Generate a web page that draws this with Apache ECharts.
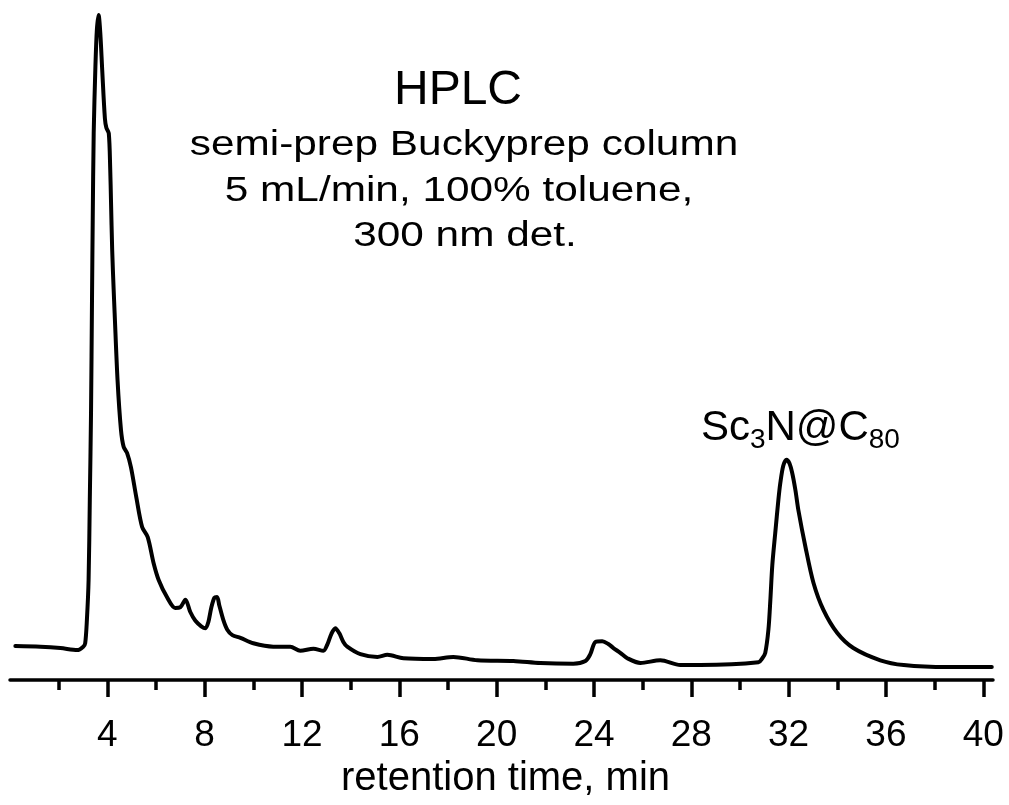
<!DOCTYPE html>
<html>
<head>
<meta charset="utf-8">
<script src="https://cdn.jsdelivr.net/npm/echarts@6/dist/echarts.min.js"></script>
<style>
  html, body { margin: 0; padding: 0; background: #fff; }
  #chart { width: 1009px; height: 805px; }
</style>
</head>
<body>
<div id="chart"></div>
<script>
// Retention time (min) and detector signal (arbitrary units, 0-100)
const retentionTime = [0.22,1.25,2.07,2.77,3.01,3.09,3.16,3.23,3.28,3.33,3.37,3.40,3.44,3.51,3.57,3.64,3.71,3.79,3.90,3.96,4.06,4.12,4.15,4.20,4.26,4.30,4.42,4.56,4.67,4.81,4.97,5.19,5.43,5.66,5.90,6.11,6.45,6.79,7.00,7.21,7.41,7.62,7.86,8.03,8.15,8.27,8.40,8.51,8.60,8.77,8.93,9.14,9.47,10.00,10.82,11.52,11.93,12.47,12.88,13.04,13.21,13.37,13.53,13.70,13.86,14.40,15.10,15.51,16.17,17.40,18.22,19.21,20.69,21.80,23.15,23.65,23.85,24.06,24.34,24.59,24.80,25.08,25.37,25.91,26.73,27.55,28.37,30.76,30.92,31.04,31.17,31.25,31.33,31.45,31.58,31.66,31.78,31.91,32.03,32.15,32.28,32.40,32.69,33.02,33.43,34.00,34.66,35.77,36.73,38.52,40.35];
const signal = [5.0,4.9,4.7,4.4,4.9,5.4,8.8,14.7,26.5,39.3,55.9,67.6,80.4,90.2,95.6,97.8,95.2,89.7,82.6,81.2,80.4,75.0,70.6,63.2,57.4,54.0,44.1,36.8,34.3,33.4,31.3,26.9,22.5,21.0,17.2,14.7,12.2,10.6,10.7,11.8,10.0,8.7,7.9,7.6,8.5,10.6,12.1,12.2,11.0,8.8,7.4,6.6,6.2,5.4,4.9,4.9,4.3,4.6,4.3,5.2,6.8,7.6,6.9,5.6,4.9,3.8,3.4,3.7,3.2,3.1,3.4,2.9,2.8,2.5,2.4,2.8,3.8,5.6,5.7,5.3,4.7,4.0,3.2,2.5,2.9,2.2,2.2,2.6,3.2,4.0,7.4,11.8,16.9,21.6,26.5,29.0,31.5,32.4,31.9,30.4,27.9,25.0,19.6,14.3,10.3,6.9,4.7,2.9,2.2,1.9,1.9];

const majorTicks = [4,8,12,16,20,24,28,32,36,40];
const minorTicks = [2,6,10,14,18,22,26,30,34,38];

const titleText = 'HPLC';
const subtitleLines = ['semi-prep Buckyprep column', '5 mL/min, 100% toluene,', '300 nm det.'];
const peakLabel = { time: 31.91, value: 32.4 };
const xAxisTitle = 'retention time, min';

const FONT = '"Liberation Sans", Arial, Helvetica, sans-serif';
const chart = echarts.init(document.getElementById('chart'), null, { renderer: 'canvas' });

const data = retentionTime.map((t, i) => [t, signal[i]]);

function textEl(text, x, y, size, sx) {
  return {
    type: 'text', x: x, y: y, scaleX: sx, scaleY: 1, silent: true,
    style: {
      text: text, fill: '#000',
      font: size + 'px ' + FONT,
      textAlign: 'center', textVerticalAlign: 'middle',
      align: 'center', verticalAlign: 'middle'
    }
  };
}

const option = {
  animation: false,
  backgroundColor: '#fff',
  grid: { left: 10, right: 16, top: 0, bottom: 125, containLabel: false },
  xAxis: [
    {
      type: 'value', min: 0, max: 40.4, interval: 4,
      position: 'bottom',
      name: xAxisTitle, nameLocation: 'middle', nameGap: 76,
      nameTextStyle: { fontSize: 40, color: '#000', fontFamily: FONT, padding: [0, 0, 0, 8] },
      axisLine: { show: true, onZero: false, lineStyle: { color: '#000', width: 3.5 } },
      axisTick: { show: true, inside: false, length: 17, customValues: majorTicks, lineStyle: { color: '#000', width: 3.5 } },
      minorTick: { show: false },
      splitLine: { show: false },
      axisLabel: { show: true, customValues: majorTicks, margin: 37, fontSize: 37, color: '#000', fontFamily: FONT }
    },
    {
      type: 'value', min: 0, max: 40.4, interval: 2,
      position: 'bottom',
      axisLine: { show: false, onZero: false },
      axisTick: { show: true, inside: false, length: 10, customValues: minorTicks, lineStyle: { color: '#000', width: 3.5 } },
      splitLine: { show: false },
      axisLabel: { show: false }
    }
  ],
  yAxis: { type: 'value', min: 0, max: 100, show: false, splitLine: { show: false } },
  graphic: [
    textEl(titleText, 458, 91, 48, 1.0),
    textEl(subtitleLines[0], 464, 145, 35, 1.21),
    textEl(subtitleLines[1], 459, 191, 35, 1.21),
    textEl(subtitleLines[2], 465, 236, 35, 1.21)
  ],
  series: [{
    type: 'line',
    xAxisIndex: 0,
    data: data,
    showSymbol: false,
    smooth: 0.3,
    clip: false,
    lineStyle: { color: '#000', width: 4, join: 'round', cap: 'round' },
    markPoint: {
      symbol: 'circle', symbolSize: 0, silent: true,
      data: [{ coord: [peakLabel.time, peakLabel.value] }],
      label: {
        show: true, position: 'top', distance: 10, offset: [14, 0],
        formatter: '{a|Sc}{b|3}{a|N@C}{b|80}',
        rich: {
          a: { fontSize: 42, lineHeight: 42, color: '#000', fontFamily: FONT, verticalAlign: 'top' },
          b: { fontSize: 28, lineHeight: 28, color: '#000', fontFamily: FONT, verticalAlign: 'top', padding: [19, 0, 0, 0] }
        }
      }
    }
  }]
};
chart.setOption(option);
</script>
</body>
</html>
